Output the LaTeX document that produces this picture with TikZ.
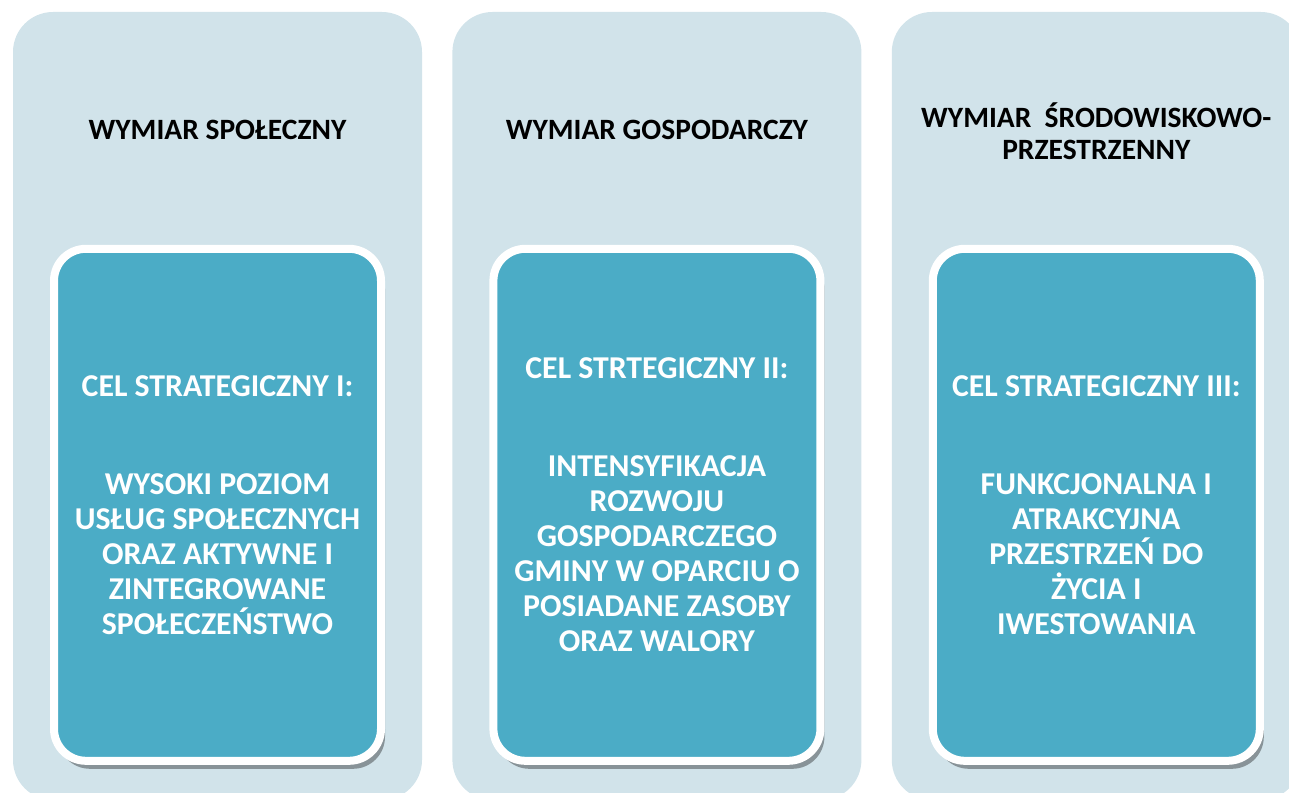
\documentclass[tikz,border=0pt]{standalone}
\usepackage{fontspec}
\setmainfont{Carlito}
\usetikzlibrary{positioning,shadows}

\definecolor{dimfill}{HTML}{D1E3EA}
\definecolor{goalfill}{HTML}{4BACC6}

\tikzset{
  dimbox/.style={rectangle, rounded corners=40pt, fill=dimfill, inner sep=0pt,
    minimum width=409pt, minimum height=788pt},
  dimlabel/.style={align=center, font=\fontsize{29.5}{32}\selectfont\bfseries},
  goalbox/.style={rectangle, rounded corners=32pt, fill=goalfill, draw=white,
    line width=8pt, minimum width=327pt, minimum height=512pt, align=center,
    text=white, font=\fontsize{31.8}{35}\selectfont\bfseries,
    drop shadow={shadow xshift=4pt, shadow yshift=-8pt, opacity=.35, fill=black}}
}

\begin{document}
\begin{tikzpicture}[x=1pt,y=1pt]
  \clip (0,0) rectangle (1289,-792);

  % wymiary
  \node[dimbox] (spol) at (217.5,-406) {};
  \node[dimbox, right=30pt of spol] (gosp) {};
  \node[dimbox, right=30pt of gosp] (srod) {};

  \node[dimlabel] (spoltitle) at ([yshift=-118pt]spol.north) {WYMIAR SPOŁECZNY};
  \node[dimlabel] (gosptitle) at ([yshift=-118pt]gosp.north) {WYMIAR GOSPODARCZY};
  \node[dimlabel] (srodtitle) at ([yshift=-119pt]srod.north) {WYMIAR\ \ ŚRODOWISKOWO-\\PRZESTRZENNY};

  % cele strategiczne
  \node[goalbox, below=233pt of spol.north] (celI)
    {CEL STRATEGICZNY I:\\[63pt]WYSOKI POZIOM\\USŁUG SPOŁECZNYCH\\ORAZ AKTYWNE I\\ZINTEGROWANE\\SPOŁECZEŃSTWO};
  \node[goalbox, below=233pt of gosp.north] (celII)
    {CEL STRTEGICZNY II:\\[63pt]INTENSYFIKACJA\\ROZWOJU\\GOSPODARCZEGO\\GMINY W OPARCIU O\\POSIADANE ZASOBY\\ORAZ WALORY};
  \node[goalbox, below=233pt of srod.north] (celIII)
    {CEL STRATEGICZNY III:\\[63pt]FUNKCJONALNA I\\ATRAKCYJNA\\PRZESTRZEŃ DO\\ŻYCIA I\\IWESTOWANIA};
\end{tikzpicture}
\end{document}
